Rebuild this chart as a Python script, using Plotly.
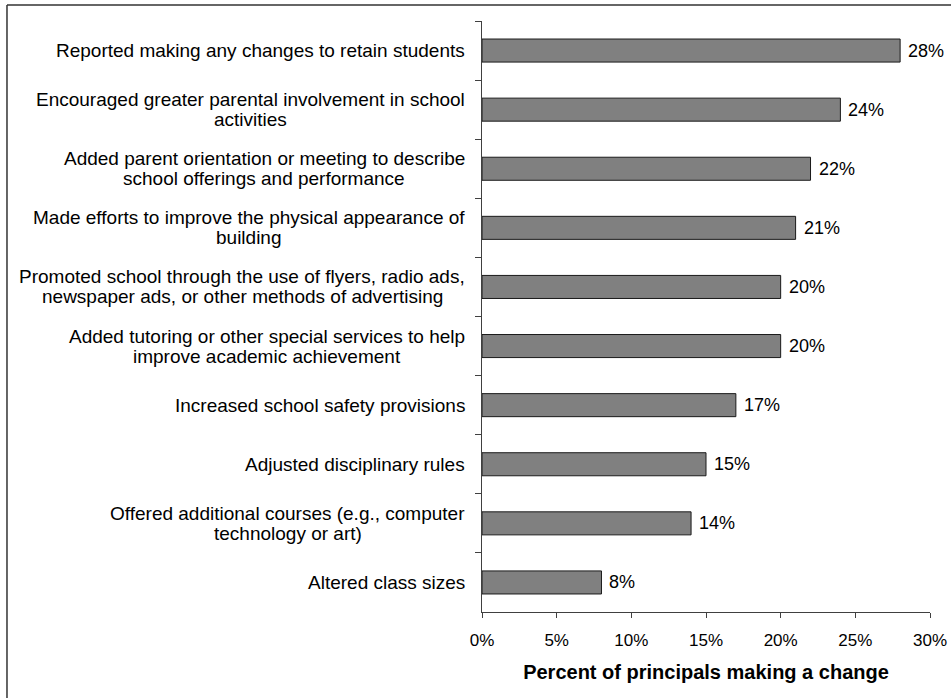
import plotly.graph_objects as go

# Survey items, listed top to bottom as drawn
categories = [
    "Reported making any changes to retain students",
    "Encouraged greater parental involvement in school<br>activities",
    "Added parent orientation or meeting to describe<br>school offerings and performance",
    "Made efforts to improve the physical appearance of<br>building",
    "Promoted school through the use of flyers, radio ads,<br>newspaper ads, or other methods of advertising",
    "Added tutoring or other special services to help<br>improve academic achievement",
    "Increased school safety provisions",
    "Adjusted disciplinary rules",
    "Offered additional courses (e.g., computer<br>technology or art)",
    "Altered class sizes",
]
values = [28, 24, 22, 21, 20, 20, 17, 15, 14, 8]

x_tick_vals = [0, 5, 10, 15, 20, 25, 30]
x_tick_labels = ["0%", "5%", "10%", "15%", "20%", "25%", "30%"]
x_axis_title = "Percent of principals making a change"

FONT = "Liberation Sans, Arial, Helvetica, sans-serif"
LABEL_SIZE = 19
LABEL_GAP = 17        # px between label block and the y axis
LINE_PITCH = 20.0     # px between wrapped label lines

# Arial / Liberation Sans advance widths (per 1000 em) for centring wrapped lines
_W = {" ": 278, ",": 278, ".": 278, "(": 333, ")": 333, "-": 333}
_W.update(dict(zip("abcdefghijklmnopqrstuvwxyz",
                   [556, 556, 500, 556, 556, 278, 556, 556, 222, 222, 500, 222, 833,
                    556, 556, 556, 556, 333, 500, 278, 556, 500, 722, 500, 500, 500])))
_W.update(dict(zip("ABCDEFGHIJKLMNOPQRSTUVWXYZ",
                   [667, 667, 722, 722, 667, 611, 778, 722, 278, 500, 667, 556, 833,
                    722, 778, 667, 778, 722, 667, 611, 722, 667, 944, 667, 667, 611])))


def text_width(s, size):
    return sum(_W.get(ch, 556) for ch in s) * size / 1000.0


fig = go.Figure(
    go.Bar(
        y=categories,
        x=values,
        orientation="h",
        width=0.39,
        marker=dict(color="#808080", line=dict(color="#1a1a1a", width=1)),
        hoverinfo="skip",
    )
)

annotations = []
# value labels just past each bar end
for cat, v in zip(categories, values):
    annotations.append(dict(
        x=v, y=cat, xref="x", yref="y", text=f"{v}%",
        showarrow=False, xanchor="left", yanchor="middle", xshift=6,
        font=dict(family=FONT, size=18, color="#000000"),
    ))

# category labels: lines centred on each other, block right edge near the axis
for cat in categories:
    lines = cat.split("<br>")
    if len(lines) == 1:
        annotations.append(dict(
            x=0, y=cat, xref="paper", yref="y", text=cat,
            showarrow=False, xanchor="right", yanchor="middle",
            xshift=-(LABEL_GAP - 2),
            font=dict(family=FONT, size=LABEL_SIZE, color="#000000"),
        ))
        continue
    widest = max(text_width(line, LABEL_SIZE) for line in lines)
    centre_shift = -LABEL_GAP - widest / 2.0
    n = len(lines)
    for i, line in enumerate(lines):
        annotations.append(dict(
            x=0, y=cat, xref="paper", yref="y", text=line,
            showarrow=False, xanchor="center", yanchor="middle",
            xshift=centre_shift,
            yshift=((n - 1) / 2.0 - i) * LINE_PITCH,
            borderpad=0,
            font=dict(family=FONT, size=LABEL_SIZE, color="#000000"),
        ))

fig.update_layout(
    width=951,
    height=698,
    autosize=False,
    margin=dict(l=482, r=21, t=21, b=86, autoexpand=False),
    paper_bgcolor="#ffffff",
    plot_bgcolor="#ffffff",
    showlegend=False,
    bargap=0.61,
    annotations=annotations,
    font=dict(family=FONT, color="#000000"),
    shapes=[
        # outer frame: top and left edges
        dict(type="line", xref="paper", yref="paper",
             x0=-1.0603, x1=2.0, y0=1.0271, y1=1.0271,
             line=dict(color="#333333", width=1.5)),
        dict(type="line", xref="paper", yref="paper",
             x0=-1.0603, x1=-1.0603, y0=-1.0, y1=1.0271,
             line=dict(color="#333333", width=1.5)),
    ],
)

fig.update_xaxes(
    range=[0, 30],
    automargin=False,
    tickvals=x_tick_vals,
    ticktext=x_tick_labels,
    ticks="outside",
    ticklen=5,
    tickcolor="#404040",
    showline=True,
    linecolor="#404040",
    linewidth=1,
    showgrid=False,
    zeroline=False,
    tickfont=dict(family=FONT, size=17, color="#000000"),
    ticklabelstandoff=8,
    title=dict(text=f"<b>{x_axis_title}</b>", standoff=15,
               font=dict(family=FONT, size=20, color="#000000")),
)

fig.update_yaxes(
    type="category",
    categoryorder="array",
    categoryarray=categories,
    range=[9.5, -0.5],
    automargin=False,
    ticks="outside",
    tickson="boundaries",
    ticklen=6,
    tickcolor="#404040",
    showline=True,
    linecolor="#404040",
    linewidth=1,
    showgrid=False,
    zeroline=False,
    showticklabels=False,
)

fig.write_html("out.html")
